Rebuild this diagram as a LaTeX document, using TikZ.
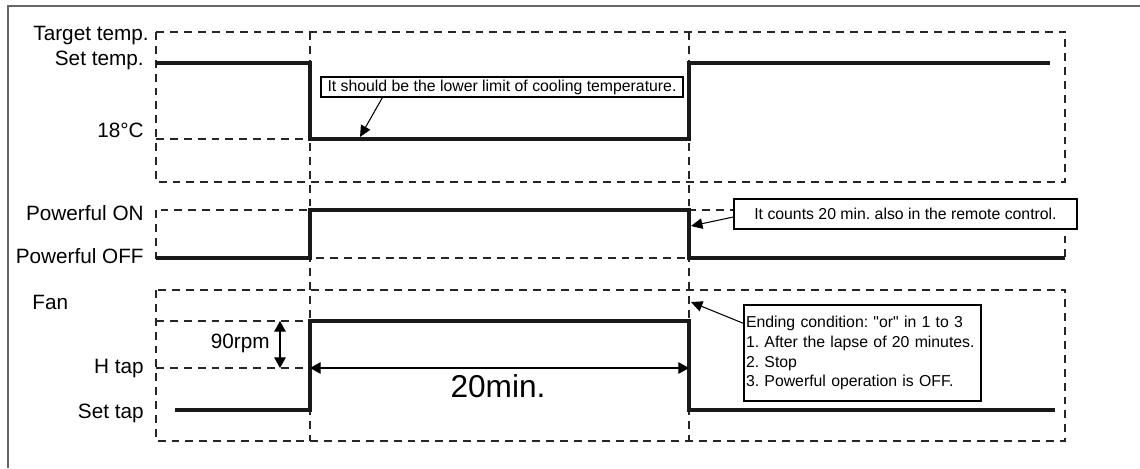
\documentclass[tikz,border=0pt]{standalone}
\usepackage{fontspec}
\setmainfont{Liberation Sans}[Ligatures=TeXOff]
\usetikzlibrary{arrows.meta,positioning,calc}
\frenchspacing

\begin{document}
\begin{tikzpicture}[x=0.02cm, y=-0.02cm,
    frame/.style={draw=black!60, line width=0.9pt},
    guide/.style={dash pattern=on 4.5pt off 3.4pt, line width=0.6pt, black!85},
    sig/.style={line width=1.9pt, black!90},
    lbl/.style={anchor=base east, inner sep=0pt, font=\fontsize{11.8}{14}\selectfont},
    note/.style={draw, fill=white, line width=0.8pt, inner sep=0pt, font=\fontsize{9}{11.3}\selectfont},
    arr/.style={-{Triangle[length=6.5pt,width=6pt]}, line width=0.6pt},
    darr/.style={{Triangle[length=6pt,width=6.5pt]}-{Triangle[length=6pt,width=6.5pt]}, line width=0.6pt}
]
\useasboundingbox (0,0) rectangle (1140,468);
\draw[frame] (8,468) -- (8,6) -- (1140,6);

% dashed guides
\draw[guide] (156,32) rectangle (1065,182);
\draw[guide] (156,210) rectangle (1065,258);
\draw[guide] (156,290) rectangle (1065,441);
\draw[guide] (310,32) -- (310,441);
\draw[guide] (689,32) -- (689,441);
\draw[guide] (156,139) -- (310,139);
\draw[guide] (156,321) -- (310,321);
\draw[guide] (156,368) -- (310,368);

% signals
\draw[sig] (156,63) -- (310,63) -- (310,139) -- (689,139) -- (689,63) -- (1050,63);
\draw[sig] (156,258) -- (310,258) -- (310,210) -- (689,210) -- (689,258) -- (1065,258);
\draw[sig] (175,410) -- (310,410) -- (310,321) -- (689,321) -- (689,410) -- (1055,410);

% level labels
\node[lbl] (tgt) at (149,40) {Target temp.};
\node[lbl] (set) at (144,65) {Set temp.};
\node[lbl] (low) at (144,137) {18°C};
\node[lbl] (pon) at (144,220) {Powerful ON};
\node[lbl] (poff) at (144,263) {Powerful OFF};
\node[lbl, anchor=base west] (fan) at (32,309) {Fan};
\node[lbl] (rpm) at (270,348) {90rpm};
\node[lbl] (htap) at (144,373) {H tap};
\node[lbl] (stap) at (144,418) {Set tap};

% time span
\coordinate (ton) at (310,368);
\coordinate (toff) at (689,368);
\draw[darr] (ton) -- (toff);
\node[anchor=base, inner sep=0pt, font=\fontsize{18}{20}\selectfont] (span) at (498,397) {20min.};
\coordinate (rtop) at (280,321);
\coordinate (rbot) at (280,368);
\draw[darr] (rtop) -- (rbot);

% notes
\node[note, minimum width=7.24cm, minimum height=0.4cm] (note1) at (502,87)
    {It should be the lower limit of cooling temperature.};
\node[note, minimum width=6.86cm, minimum height=0.6cm] (note2) at (905.5,214)
    {It counts 20 min. also in the remote control.};
\node[note, text width=4.66cm, inner xsep=0.04cm, minimum height=1.92cm, align=left] (note3) at (862.5,353)
    {Ending condition: "or" in 1 to 3\\1. After the lapse of 20 minutes.\\2. Stop\\3. Powerful operation is OFF.};

\coordinate (lowlim) at (360,137);
\coordinate (cnt) at (691,226);
\coordinate (endpt) at (691,302);
\draw[arr] ($(note1.south west)+(62,0)$) -- (lowlim);
\draw[arr] ($(note2.west)+(0,3)$) -- (cnt);
\draw[arr] ($(note3.north west)+(0,19)$) -- (endpt);
\end{tikzpicture}
\end{document}
